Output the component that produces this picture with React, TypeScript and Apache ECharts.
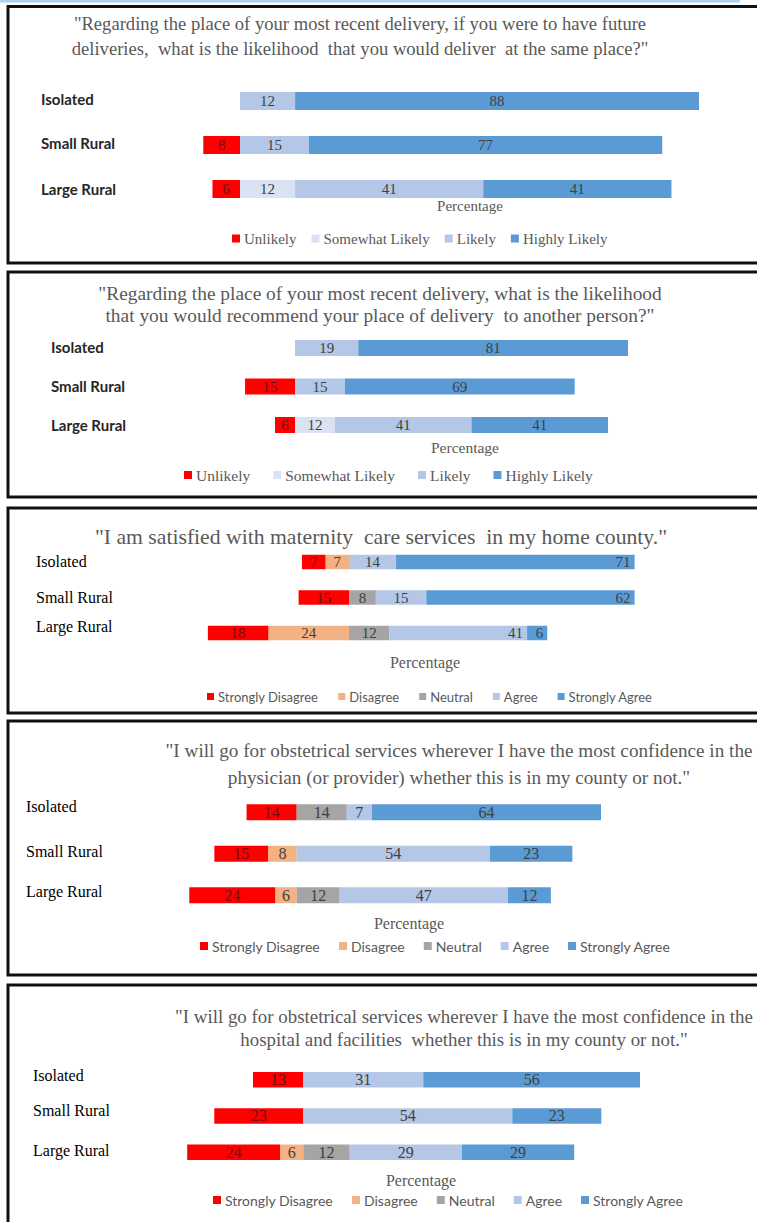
import React, { useEffect, useRef } from "react";
import * as echarts from "echarts";

const categories = ["Isolated", "Small Rural", "Large Rural"];

// Panel 1: deliver at the same place
const p1Unlikely = [0, 8, 6];
const p1Somewhat = [0, 0, 12];
const p1Likely = [12, 15, 41];
const p1Highly = [88, 77, 41];

// Panel 2: recommend place of delivery
const p2Unlikely = [0, 15, 6];
const p2Somewhat = [0, 0, 12];
const p2Likely = [19, 15, 41];
const p2Highly = [81, 69, 41];

// Panel 3: satisfied with maternity care
const p3StrongDis = [7, 15, 18];
const p3Dis = [7, 0, 24];
const p3Neutral = [0, 8, 12];
const p3Agree = [14, 15, 41];
const p3StrongAgree = [71, 62, 6];

// Panel 4: confidence in physician
const p4StrongDis = [14, 15, 24];
const p4Dis = [0, 8, 6];
const p4Neutral = [14, 0, 12];
const p4Agree = [7, 54, 47];
const p4StrongAgree = [64, 23, 12];

// Panel 5: confidence in hospital
const p5StrongDis = [13, 23, 24];
const p5Dis = [0, 0, 6];
const p5Neutral = [0, 0, 12];
const p5Agree = [31, 54, 29];
const p5StrongAgree = [56, 23, 29];

const likertLegend1 = ["Unlikely", "Somewhat Likely", "Likely", "Highly Likely"];
const likertLegend2 = ["Strongly Disagree", "Disagree", "Neutral", "Agree", "Strongly Agree"];

const titles = [
  '"Regarding the place of your most recent delivery, if you were to have future\ndeliveries,  what is the likelihood  that you would deliver  at the same place?"',
  '"Regarding the place of your most recent delivery, what is the likelihood\nthat you would recommend your place of delivery  to another person?"',
  '"I am satisfied with maternity  care services  in my home county."',
  '"I will go for obstetrical services wherever I have the most confidence in the\nphysician (or provider) whether this is in my county or not."',
  '"I will go for obstetrical services wherever I have the most confidence in the\nhospital and facilities  whether this is in my county or not."',
];

const RED = "#FF0000";
const PEACH = "#F4B183";
const GRAY = "#A5A5A5";
const LIGHT = "#B4C7E7";
const PALE = "#DAE3F3";
const BLUE = "#5B9BD5";

const SERIF = "'Liberation Serif','Times New Roman',serif";
const BOLDSANS = "Lato,'Liberation Sans',sans-serif";
const SANS = "Lato,'Noto Sans',sans-serif";

type SeriesDef = { name: string; values: number[]; color: string; neg?: boolean; pos?: string; override?: Record<number, string> };

const panels = [
  {
    series: [
      { name: "Unlikely", values: p1Unlikely, color: RED, neg: true },
      { name: "Somewhat Likely", values: p1Somewhat, color: PALE },
      { name: "Likely", values: p1Likely, color: LIGHT },
      { name: "Highly Likely", values: p1Highly, color: BLUE },
    ] as SeriesDef[],
    legend: likertLegend1,
    layout: {
      titleX: 360, titleC: 23, titleSize: 18.6, titleLH: 25,
      zero: 240, ppu: 4.59, min: -10, max: 110, top: 79, band: 44, barW: 18,
      labelX: 41, labelFont: BOLDSANS, labelSize: 15, labelWeight: "bold", labelColor: "#262626", labelDy: [-2, -2, 0],
      valSize: 15, pctX: 470, pctY: 207, pctSize: 15,
      legendX: 232, legendY: 231, legendFont: SERIF, legendSize: 15, legendGap: 15, icon: 8,
    },
  },
  {
    series: [
      { name: "Unlikely", values: p2Unlikely, color: RED, neg: true },
      { name: "Somewhat Likely", values: p2Somewhat, color: PALE },
      { name: "Likely", values: p2Likely, color: LIGHT },
      { name: "Highly Likely", values: p2Highly, color: BLUE },
    ] as SeriesDef[],
    legend: likertLegend1,
    layout: {
      titleX: 380, titleC: 293, titleSize: 19.4, titleLH: 22,
      zero: 295, ppu: 3.33, min: -20, max: 122, top: 328.75, band: 38.5, barW: 16,
      labelX: 51, labelFont: BOLDSANS, labelSize: 15, labelWeight: "bold", labelColor: "#262626", labelDy: [-1, -1, 0],
      valSize: 15, pctX: 465, pctY: 449, pctSize: 15.5,
      legendX: 184, legendY: 467, legendFont: SERIF, legendSize: 15.5, legendGap: 23, icon: 8,
    },
  },
  {
    series: [
      { name: "Disagree", values: p3Dis, color: PEACH, neg: true },
      { name: "Strongly Disagree", values: p3StrongDis, color: RED, neg: true },
      { name: "Neutral", values: p3Neutral, color: GRAY },
      { name: "Agree", values: p3Agree, color: LIGHT, override: { 2: "insideRight" } },
      { name: "Strongly Agree", values: p3StrongAgree, color: BLUE, pos: "insideRight" },
    ] as SeriesDef[],
    legend: likertLegend2,
    layout: {
      titleX: 381, titleC: 537, titleSize: 21.7, titleLH: 26,
      zero: 349, ppu: 3.36, min: -45, max: 90, top: 544.25, band: 35.5, barW: 14.5,
      labelX: 36, labelFont: SERIF, labelSize: 16, labelWeight: "normal", labelColor: "#000", labelDy: [0, 0, -7],
      valSize: 15, pctX: 425, pctY: 664, pctSize: 16,
      legendX: 207, legendY: 690, legendFont: SANS, legendSize: 13, legendGap: 20, icon: 7,
    },
  },
  {
    series: [
      { name: "Disagree", values: p4Dis, color: PEACH, neg: true },
      { name: "Strongly Disagree", values: p4StrongDis, color: RED, neg: true },
      { name: "Neutral", values: p4Neutral, color: GRAY },
      { name: "Agree", values: p4Agree, color: LIGHT },
      { name: "Strongly Agree", values: p4StrongAgree, color: BLUE },
    ] as SeriesDef[],
    legend: likertLegend2,
    layout: {
      titleX: 459, titleC: 750, titleSize: 19.2, titleLH: 27,
      zero: 296.7, ppu: 3.58, min: -30, max: 93, top: 791.5, band: 41.5, barW: 16,
      labelX: 26, labelFont: SERIF, labelSize: 16, labelWeight: "normal", labelColor: "#000", labelDy: [-6, -2, -4],
      valSize: 16, pctX: 409, pctY: 925, pctSize: 16,
      legendX: 200, legendY: 939, legendFont: SANS, legendSize: 14, legendGap: 19, icon: 8,
    },
  },
  {
    series: [
      { name: "Disagree", values: p5Dis, color: PEACH, neg: true },
      { name: "Strongly Disagree", values: p5StrongDis, color: RED, neg: true },
      { name: "Neutral", values: p5Neutral, color: GRAY },
      { name: "Agree", values: p5Agree, color: LIGHT },
      { name: "Strongly Agree", values: p5StrongAgree, color: BLUE },
    ] as SeriesDef[],
    legend: likertLegend2,
    layout: {
      titleX: 464, titleC: 1016, titleSize: 18.9, titleLH: 23,
      zero: 303.3, ppu: 3.87, min: -30, max: 91, top: 1061.5, band: 36.3, barW: 15.5,
      labelX: 33, labelFont: SERIF, labelSize: 16, labelWeight: "normal", labelColor: "#000", labelDy: [-4, -5, -2],
      valSize: 16, pctX: 421, pctY: 1182, pctSize: 16,
      legendX: 213, legendY: 1193, legendFont: SANS, legendSize: 14, legendGap: 19, icon: 8,
    },
  },
];

const borders = [
  { top: 6.5, bottom: 263 },
  { top: 272, bottom: 497 },
  { top: 508, bottom: 713 },
  { top: 721, bottom: 975 },
  { top: 985, bottom: 1240 },
];

export default function App() {
  const ref = useRef<HTMLDivElement>(null);
  useEffect(() => {
    document.body.style.margin = "0";
    if (!ref.current) return;
    const chart = echarts.init(ref.current, undefined, { renderer: "svg" });

    const title: any[] = [];
    const grid: any[] = [];
    const xAxis: any[] = [];
    const yAxis: any[] = [];
    const legend: any[] = [];
    const series: any[] = [];

    panels.forEach((p, i) => {
      const L = p.layout;
      const gridLeft = L.zero + L.min * L.ppu;
      const gridWidth = (L.max - L.min) * L.ppu;
      title.push({
        text: titles[i],
        left: L.titleX,
        top: L.titleC - L.titleLH / 2,
        textAlign: "center",
        padding: 0,
        textStyle: { fontFamily: SERIF, fontSize: L.titleSize, fontWeight: "normal", color: "#595959", lineHeight: L.titleLH },
      });
      title.push({
        text: "Percentage",
        left: L.pctX,
        top: L.pctY - L.pctSize * 0.6,
        textAlign: "center",
        padding: 0,
        textStyle: { fontFamily: SERIF, fontSize: L.pctSize, fontWeight: "normal", color: "#595959" },
      });
      grid.push({ left: gridLeft, width: gridWidth, top: L.top, height: L.band * 3, containLabel: false });
      xAxis.push({ type: "value", gridIndex: i, min: L.min, max: L.max, show: false });
      const rich: Record<string, any> = {};
      L.labelDy.forEach((dy: number, k: number) => {
        rich["c" + k] = {
          fontFamily: L.labelFont,
          fontSize: L.labelSize,
          fontWeight: L.labelWeight,
          color: L.labelColor,
          lineHeight: Math.max(1, -2 * dy),
        };
      });
      yAxis.push({
        type: "category",
        gridIndex: i,
        data: categories,
        inverse: true,
        axisLine: { show: false },
        axisTick: { show: false },
        splitLine: { show: false },
        axisLabel: {
          align: "left",
          verticalAlign: "bottom",
          margin: gridLeft - L.labelX,
          fontFamily: L.labelFont,
          fontSize: L.labelSize,
          fontWeight: L.labelWeight,
          color: L.labelColor,
          formatter: (v: string, idx: number) => `{c${idx}|${v}}`,
          rich,
        },
      });
      legend.push({
        data: p.legend,
        left: L.legendX,
        top: L.legendY,
        padding: 0,
        itemGap: L.legendGap,
        itemWidth: L.icon,
        itemHeight: L.icon,
        icon: "rect",
        selectedMode: false,
        textStyle: { fontFamily: L.legendFont, fontSize: L.legendSize, color: "#595959", padding: [0, 0, 0, -1] },
      });
      p.series.forEach((s) => {
        series.push({
          type: "bar",
          name: s.name,
          xAxisIndex: i,
          yAxisIndex: i,
          stack: "p" + i,
          barWidth: L.barW,
          itemStyle: { color: s.color },
          label: {
            show: true,
            position: s.pos || "inside",
            distance: 4,
            fontFamily: SERIF,
            fontSize: L.valSize,
            color: s.color === RED ? "#6a1010" : "#404040",
            formatter: (q: any) => (q.value == null ? "" : String(Math.abs(q.value))),
          },
          data: s.values.map((v, k) => {
            if (!v) return null;
            const val = s.neg ? -v : v;
            if (s.override && s.override[k]) return { value: val, label: { position: s.override[k] } };
            return val;
          }),
        });
      });
    });

    const graphic: any[] = [
      { type: "rect", shape: { x: 0, y: 0, width: 740, height: 2.5 }, style: { fill: "#A9D1F2" }, silent: true },
    ];
    borders.forEach((b) => {
      graphic.push({
        type: "rect",
        shape: { x: 8, y: b.top, width: 760, height: b.bottom - b.top },
        style: { fill: "none", stroke: "#111", lineWidth: 3 },
        silent: true,
      });
    });

    chart.setOption({
      animation: false,
      backgroundColor: "#ffffff",
      title,
      grid,
      xAxis,
      yAxis,
      legend,
      series,
      graphic,
    });
    return () => chart.dispose();
  }, []);
  return <div ref={ref} style={{ width: 757, height: 1222 }} />;
}
